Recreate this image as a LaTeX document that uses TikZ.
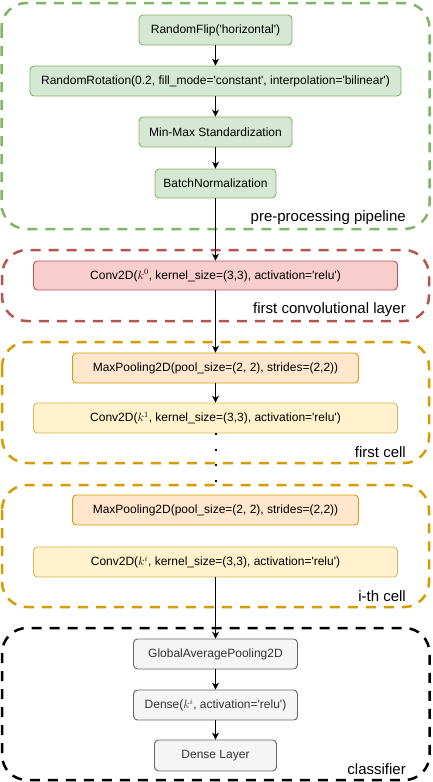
\documentclass[tikz,border=0pt]{standalone}
\usepackage{fontspec}
\newfontfamily\lsans{Liberation Sans}
\usetikzlibrary{arrows.meta}
\definecolor{gfill}{HTML}{D5E8D4}\definecolor{gline}{HTML}{82B366}
\definecolor{rfill}{HTML}{F8CECC}\definecolor{rline}{HTML}{B85450}
\definecolor{ofill}{HTML}{FFE6CC}\definecolor{oline}{HTML}{D79B00}
\definecolor{yfill}{HTML}{FFF2CC}\definecolor{yline}{HTML}{D6B656}
\definecolor{sfill}{HTML}{F5F5F5}\definecolor{sline}{HTML}{666666}
\definecolor{stext}{HTML}{333333}
\newcommand{\q}{\textquotesingle}
\tikzset{
  layerbox/.style={rectangle, rounded corners=4pt, line width=0.9pt, inner sep=0pt,
    font=\lsans\fontsize{12}{14}\selectfont, minimum height=30pt},
  greenbox/.style={layerbox, fill=gfill, draw=gline},
  redbox/.style={layerbox, fill=rfill, draw=rline},
  orangebox/.style={layerbox, fill=ofill, draw=oline},
  yellowbox/.style={layerbox, fill=yfill, draw=yline},
  graybox/.style={layerbox, fill=sfill, draw=sline, text=stext},
  group/.style={rounded corners=25pt, line width=2.5pt, dash pattern=on 10pt off 8pt},
  grouplabel/.style={anchor=east, inner sep=0pt, font=\lsans\fontsize{15}{17}\selectfont},
  flow/.style={-{Stealth[length=7pt,width=7pt]}, line width=0.9pt, black},
  dots/.style={line width=2pt, dash pattern=on 2pt off 13.5pt, black}
}
\begin{document}
\begin{tikzpicture}[x=1pt,y=-1pt]
\useasboundingbox (0,0) rectangle (432,782);
% group frames
\draw[group, draw=gline] (1.5,3) rectangle (429.5,229);
\draw[group, draw=rline] (2,250) rectangle (429,321);
\draw[group, draw=oline] (2,342) rectangle (429,463);
\draw[group, draw=oline] (2,485) rectangle (429,607);
\draw[group, draw=black] (2,628) rectangle (429.5,780);
% group labels
\node[grouplabel] (lpre) at (406,218) {pre-processing pipeline};
\node[grouplabel] (lconv) at (406,310) {first convolutional layer};
\node[grouplabel] (lcell) at (406,452) {first cell};
\node[grouplabel] (licell) at (406,596) {i-th cell};
\node[grouplabel] (lcls) at (406,769) {classifier};
% layers
\node[greenbox, minimum width=153pt] (flip) at (215.5,30) {RandomFlip(\q horizontal\q)};
\node[greenbox, minimum width=371pt] (rot) at (215.5,81) {RandomRotation(0.2, fill\_mode=\q constant\q, interpolation=\q bilinear\q)};
\node[greenbox, minimum width=153pt] (mm) at (215.5,132) {Min-Max Standardization};
\node[greenbox, minimum width=121pt, minimum height=29pt] (bn) at (215.5,183.5) {BatchNormalization};
\node[redbox, minimum width=364pt, minimum height=29pt] (conv0) at (215.5,275.5) {Conv2D($k^0$, kernel\_size=(3,3), activation=\q relu\q)};
\node[orangebox, minimum width=286pt] (mp1) at (215.5,368) {MaxPooling2D(pool\_size=(2, 2), strides=(2,2))};
\node[yellowbox, minimum width=364pt] (conv1) at (215.5,418) {Conv2D($k^1$, kernel\_size=(3,3), activation=\q relu\q)};
\node[orangebox, minimum width=286pt] (mp2) at (215.5,510) {MaxPooling2D(pool\_size=(2, 2), strides=(2,2))};
\node[yellowbox, minimum width=364pt] (convi) at (215.5,562) {Conv2D($k^i$, kernel\_size=(3,3), activation=\q relu\q)};
\node[graybox, minimum width=164pt] (gap) at (215.5,654) {GlobalAveragePooling2D};
\node[graybox, minimum width=164pt] (dense) at (215.5,705) {Dense($k^i$, activation=\q relu\q)};
\node[graybox, minimum width=122pt, minimum height=31pt] (dl) at (215.5,755.5) {Dense Layer};
\coordinate (dotend) at (215.5,484);
% connectors
\draw[flow] (flip) -- (rot);
\draw[flow] (rot) -- (mm);
\draw[flow] (mm) -- (bn);
\draw[flow] (bn) -- (conv0);
\draw[flow] (conv0) -- (mp1);
\draw[flow] (mp1) -- (conv1);
\draw[dots] (conv1.south) -- (dotend);
\draw[flow] (convi) -- (gap);
\draw[flow] (gap) -- (dense);
\draw[flow] (dense) -- (dl);
\end{tikzpicture}
\end{document}
